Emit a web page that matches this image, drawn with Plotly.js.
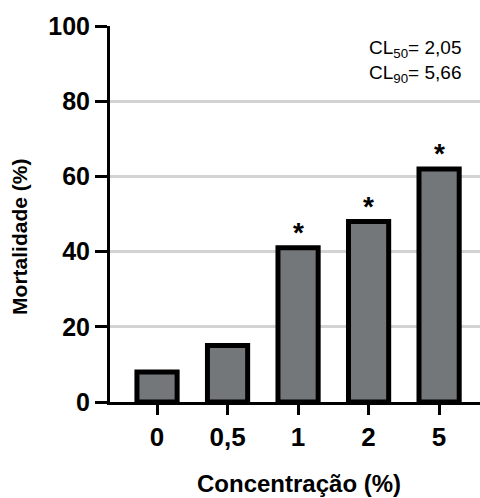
<!DOCTYPE html>
<html>
<head>
<meta charset="utf-8">
<script src="https://cdn.plot.ly/plotly-3.0.1.min.js"></script>
<style>html,body{margin:0;padding:0;background:#fff;}#chart{width:480px;height:498px;}</style>
</head>
<body>
<div id="chart"></div>
<script>
const categories = ["0", "0,5", "1", "2", "5"];
const mortality = [8, 15, 41, 48, 62];
const significant = [false, false, true, true, true];
const yTicks = [0, 20, 40, 60, 80, 100];
const statLines = ["CL<sub>50</sub>= 2,05", "CL<sub>90</sub>= 5,66"];

const FONT = "Liberation Sans, Arial, Helvetica, sans-serif";

const trace = {
  type: "bar",
  x: categories,
  y: mortality,
  width: 0.57,
  marker: { color: "#747779", line: { color: "#000", width: 5 } },
  hoverinfo: "skip"
};

const annotations = [];
categories.forEach((c, i) => {
  if (significant[i]) {
    annotations.push({
      x: i, y: mortality[i], xref: "x", yref: "y",
      text: "*", showarrow: false, yanchor: "bottom",
      yshift: -2,
      font: { family: FONT, size: 28, color: "#000", weight: "bold" }
    });
  }
});
annotations.push({
  xref: "paper", yref: "paper", x: 0.955, y: 0.975,
  xanchor: "right", yanchor: "top", align: "right",
  text: statLines.join("<br>"), showarrow: false,
  font: { family: FONT, size: 19, color: "#000" }
});
annotations.push({
  xref: "paper", yref: "paper", x: -0.245, y: 0.44,
  xanchor: "center", yanchor: "middle", textangle: -90,
  text: "Mortalidade (%)", showarrow: false,
  font: { family: FONT, size: 21, color: "#000", weight: "bold" }
});
annotations.push({
  xref: "paper", yref: "paper", x: 0.511, y: -0.216,
  xanchor: "center", yanchor: "middle",
  text: "Concentração (%)", showarrow: false,
  font: { family: FONT, size: 24, color: "#000", weight: "bold" }
});

const layout = {
  width: 480, height: 498,
  margin: { l: 110, r: 0, t: 26, b: 95.5 },
  paper_bgcolor: "#fff", plot_bgcolor: "#fff",
  showlegend: false,
  xaxis: {
    type: "category",
    range: [-0.667, 4.58],
    showgrid: false, zeroline: false,
    showline: true, linecolor: "#000", linewidth: 3,
    ticks: "outside", ticklen: 10, tickwidth: 3, tickcolor: "#000",
    tickfont: { family: FONT, size: 26, color: "#000", weight: "bold" }
  },
  yaxis: {
    range: [0, 100],
    tickvals: yTicks,
    showgrid: true, gridcolor: "#d3d3d3", gridwidth: 3,
    zeroline: false,
    showline: true, linecolor: "#000", linewidth: 3,
    ticks: "outside", ticklen: 12, tickwidth: 3, tickcolor: "#000",
    tickfont: { family: FONT, size: 25, color: "#000", weight: "bold" }
  },
  annotations: annotations
};

Plotly.newPlot("chart", [trace], layout, { displayModeBar: false, staticPlot: true });
</script>
</body>
</html>
